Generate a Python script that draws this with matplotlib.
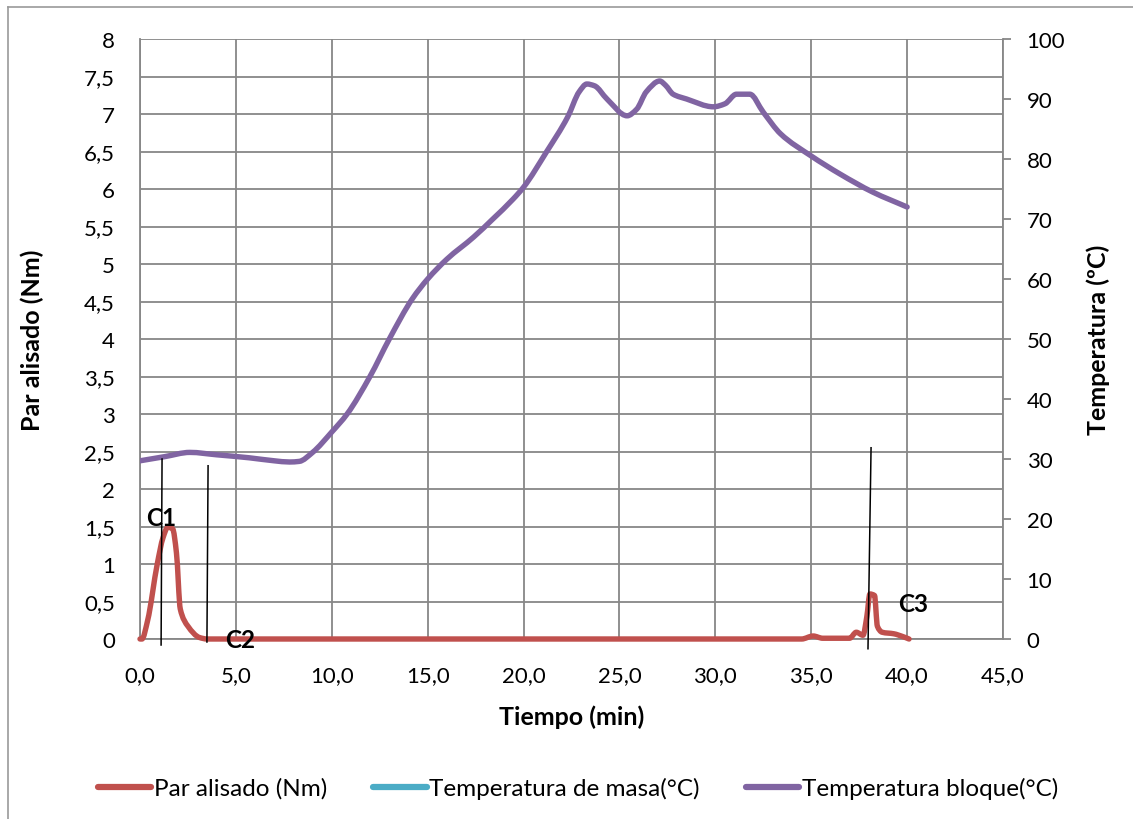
import matplotlib
matplotlib.use("Agg")
import matplotlib.pyplot as plt
from matplotlib.lines import Line2D
from matplotlib.path import Path
from matplotlib.patches import PathPatch
from matplotlib.ticker import FixedLocator, FuncFormatter

plt.rcParams['font.family'] = ['Lato', 'DejaVu Sans']

# ---- data ----
t_torque = [0, 0.1, 0.4, 0.9, 1.2, 1.45, 1.7, 1.9, 2.1, 2.5, 3.1, 3.5, 10, 20, 30,
            34.5, 35.1, 35.6, 37.0, 37.35, 37.7, 37.9, 38.06, 38.3, 38.45, 38.7,
            39.3, 39.8, 40.1]
torque = [0, 0, 0.25, 1.0, 1.35, 1.49, 1.47, 1.15, 0.4, 0.17, 0.02, 0, 0, 0, 0,
          0, 0.04, 0.01, 0.01, 0.09, 0.05, 0.3, 0.6, 0.58, 0.17, 0.09,
          0.07, 0.03, 0]

t_masa = []
temp_masa = []

t_bloque = [0, 1.3, 2.6, 4.0, 5.7, 7.0, 7.8, 8.3, 9.0, 10.0, 10.8, 12.0, 13.0, 14.2,
            15.0, 16.0, 17.4, 18.4, 19.45, 20.0, 21.2, 22.3, 22.9, 23.3, 23.7,
            24.35, 25.4, 25.9, 26.4, 27.1, 27.4, 27.8, 28.5, 29.9, 30.5, 31.1,
            31.8, 32.5, 33.4, 35.0, 36.5, 38.2, 40.0]
temp_bloque = [29.7, 30.4, 31.1, 30.7, 30.2, 29.7, 29.5, 29.6, 31.1, 34.5, 37.5,
               43.8, 50.0, 56.7, 60.0, 63.3, 67.0, 70.0, 73.3, 75.3, 81.2, 87.0,
               91.2, 92.5, 92.2, 90.0, 87.2, 88.3, 91.2, 93.0, 92.3, 90.8, 90.0,
               88.7, 89.2, 90.8, 90.8, 87.8, 84.2, 80.5, 77.5, 74.5, 72.0]

x_ticks = [0, 5, 10, 15, 20, 25, 30, 35, 40, 45]
y_left_ticks = [0, 0.5, 1, 1.5, 2, 2.5, 3, 3.5, 4, 4.5, 5, 5.5, 6, 6.5, 7, 7.5, 8]
y_right_ticks = [0, 10, 20, 30, 40, 50, 60, 70, 80, 90, 100]

# marker lines (drawn shapes) and labels
marker_x = [(1.15, 1.10), (3.55, 3.49), (38.12, 37.96)]
marker_y = [(2.40, -0.08), (2.31, -0.04), (2.55, -0.13)]
label_text = ["C1", "C2", "C3"]
label_x = [1.1, 5.2, 40.3]
label_y = [1.62, 0.0, 0.47]

RED = '#C0504D'
CYAN = '#4BACC6'
PURPLE = '#8064A2'
GRID = '#878787'


def smooth_path(xs, ys):
    """Smoothed (monotone cubic) line through the points, as Bezier path."""
    n = len(xs)
    if n < 2:
        return None
    h = [xs[i + 1] - xs[i] for i in range(n - 1)]
    d = [(ys[i + 1] - ys[i]) / h[i] for i in range(n - 1)]
    m = [0.0] * n
    m[0] = d[0]
    m[-1] = d[-1]
    for k in range(1, n - 1):
        if d[k - 1] * d[k] <= 0:
            m[k] = 0.0
        else:
            w1 = 2 * h[k] + h[k - 1]
            w2 = h[k] + 2 * h[k - 1]
            m[k] = (w1 + w2) / (w1 / d[k - 1] + w2 / d[k])
    verts = [(xs[0], ys[0])]
    codes = [Path.MOVETO]
    for k in range(n - 1):
        verts += [(xs[k] + h[k] / 3, ys[k] + m[k] * h[k] / 3),
                  (xs[k + 1] - h[k] / 3, ys[k + 1] - m[k + 1] * h[k] / 3),
                  (xs[k + 1], ys[k + 1])]
        codes += [Path.CURVE4] * 3
    return Path(verts, codes)


fig = plt.figure(figsize=(11.33, 8.2), dpi=100)
ax = fig.add_axes([140/1133, 1-640/820, 863/1133, 600/820])
ax2 = ax.twinx()

ax.set_xlim(0, 45)
ax.set_ylim(0, 8)
ax2.set_ylim(0, 100)

ax.xaxis.set_major_locator(FixedLocator(x_ticks))
ax.yaxis.set_major_locator(FixedLocator(y_left_ticks))
ax2.yaxis.set_major_locator(FixedLocator(y_right_ticks))

ax.xaxis.set_major_formatter(FuncFormatter(lambda v, p: f"{v:.1f}".replace('.', ',')))
ax.yaxis.set_major_formatter(FuncFormatter(lambda v, p: (f"{v:g}").replace('.', ',')))
ax2.yaxis.set_major_formatter(FuncFormatter(lambda v, p: f"{v:g}"))

ax.grid(True, color=GRID, linewidth=1.3)
ax.set_axisbelow(True)

for sp in ['top', 'right']:
    ax.spines[sp].set_visible(False)
for sp in ['top', 'left', 'bottom']:
    ax2.spines[sp].set_visible(False)
for sp in [ax.spines['left'], ax.spines['bottom'], ax2.spines['right']]:
    sp.set_color(GRID)
    sp.set_linewidth(1.3)

ax.tick_params(axis='y', length=0, labelsize=16, pad=18)
ax.tick_params(axis='x', length=0, labelsize=16, pad=19)
ax2.tick_params(axis='y', direction='out', length=6, width=1.3, color=GRID,
                labelsize=16, pad=11)

LW = 3.9
# series (smoothed lines)
if len(t_masa) > 1:
    ax2.add_patch(PathPatch(smooth_path(t_masa, temp_masa), fill=False,
                            edgecolor=CYAN, linewidth=LW, capstyle='round',
                            joinstyle='round'))
ax2.add_patch(PathPatch(smooth_path(t_bloque, temp_bloque), fill=False,
                        edgecolor=PURPLE, linewidth=LW, capstyle='round',
                        joinstyle='round'))
ax2.add_patch(PathPatch(smooth_path(t_torque, torque), fill=False,
                        edgecolor=RED, linewidth=LW, capstyle='round',
                        joinstyle='round', transform=ax.transData,
                        clip_on=False))

for (xs, ys) in zip(marker_x, marker_y):
    ax2.plot(xs, ys, color='black', linewidth=1.1, transform=ax.transData,
             clip_on=False)

for s, x, y in zip(label_text, label_x, label_y):
    ax2.text(x, y, s, transform=ax.transData, fontsize=17.5, fontweight='bold',
             ha='center', va='center')

ax.set_xlabel('Tiempo (min)', fontsize=18, fontweight='bold')
ax.xaxis.set_label_coords(0.5, -0.128)
ax.xaxis.label.set_va('center')
ax.set_ylabel('Par alisado (Nm)', fontsize=18, fontweight='bold')
ax.yaxis.set_label_coords(-0.125, 0.5)
ax.yaxis.label.set_va('center')
ax2.set_ylabel('Temperatura (ºC)', fontsize=18, fontweight='bold', rotation=90)
ax2.yaxis.set_label_coords(1.110, 0.5)
ax2.yaxis.label.set_va('center')

handles = [Line2D([], [], color=RED, linewidth=4.5, solid_capstyle='round'),
           Line2D([], [], color=CYAN, linewidth=4.5, solid_capstyle='round'),
           Line2D([], [], color=PURPLE, linewidth=4.5, solid_capstyle='round')]
labels = ['Par alisado (Nm)', 'Temperatura de masa(°C)', 'Temperatura bloque(°C)']
fig.legend(handles, labels, loc='center', bbox_to_anchor=(578/1133, 1-789/820),
           ncol=3, frameon=False, fontsize=17.5, handlelength=2.2,
           handletextpad=0.1, columnspacing=1.9)

# outer chart border
fig.add_artist(Line2D([8/1133, 8/1133], [0, 1-8/820], color='#9a9a9a', linewidth=1.2,
                      transform=fig.transFigure))
fig.add_artist(Line2D([8/1133, 1], [1-8/820, 1-8/820], color='#9a9a9a', linewidth=1.2,
                      transform=fig.transFigure))

fig.savefig('out.png', dpi=100)
